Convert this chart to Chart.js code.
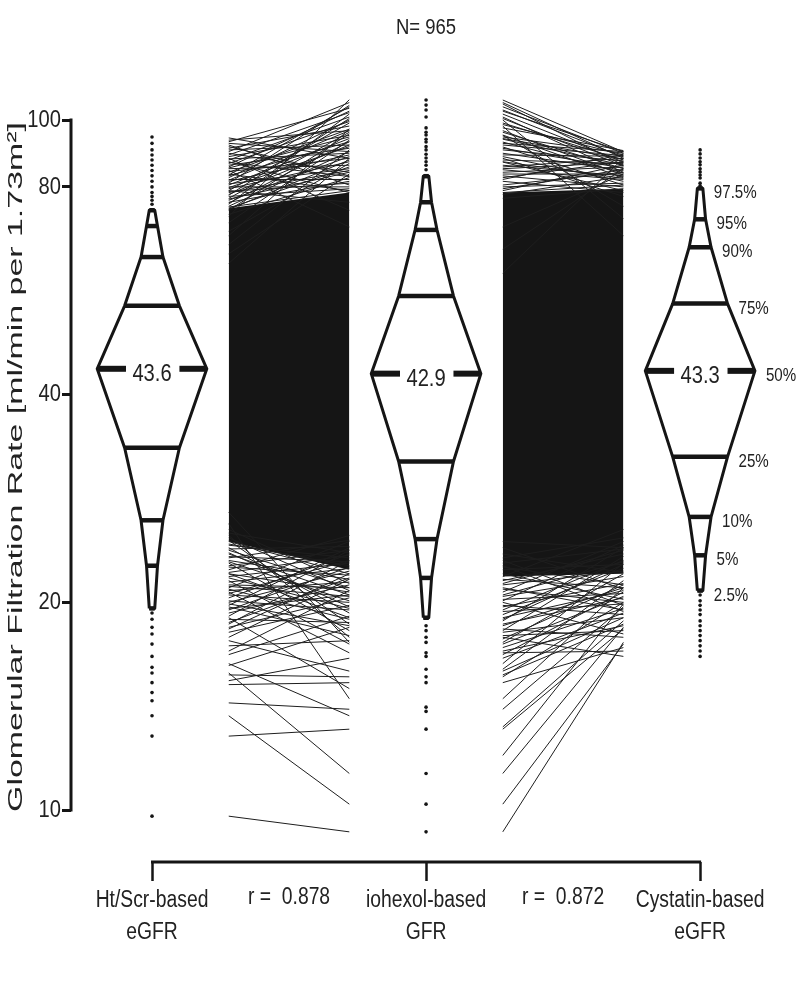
<!DOCTYPE html>
<html>
<head>
<meta charset="utf-8">
<script src="https://cdn.jsdelivr.net/npm/chart.js@4.4.1/dist/chart.umd.min.js"></script>
<style>
  html, body { margin: 0; padding: 0; background: #fff; }
</style>
</head>
<body>
<canvas id="chart0" width="800" height="981"></canvas>
<script>
const sans = "'Liberation Sans', Arial, sans-serif";

const titleText = "N= 965";
const yTitle = "Glomerular Filtration Rate [ml/min per 1.73m\u00b2]";
const categories = [["Ht/Scr-based", "eGFR"], ["iohexol-based", "GFR"], ["Cystatin-based", "eGFR"]];
const corrLabels = ["r =  0.878", "r =  0.872"];
const yTicks = [10, 20, 40, 80, 100];

// quantile levels and values per method
const quantLevels = [2.5, 5, 10, 25, 50, 75, 90, 95, 97.5];
const quantLabels = ["2.5%", "5%", "10%", "25%", "50%", "75%", "90%", "95%", "97.5%"];
const htScrQ = [19.6, 22.6, 26.3, 33.5, 43.6, 53.8, 63.3, 70.2, 74.0];
const iohexolQ = [19.0, 21.7, 24.7, 32.0, 42.9, 55.6, 69.3, 76.0, 82.9];
const cystatinQ = [20.8, 23.4, 26.6, 32.5, 43.3, 54.2, 65.4, 71.8, 79.6];

// single values outside 2.5-97.5%
const htScrOut = [94.5, 92.5, 90.5, 89, 87.5, 86, 84.5, 83, 81.5, 80, 78.5, 77.5, 76.5, 75.5,
  19.3, 18.9, 18.4, 18.0, 17.4, 16.7, 16.1, 15.8, 15.3, 14.8, 14.4, 13.7, 12.8, 9.8];
const iohexolOut = [106.9, 105.1, 103.4, 101, 97.4, 96, 95.1, 93.8, 92.9, 91.5, 90.5, 89.2, 88.1, 87, 86, 84.7,
  18.5, 18.2, 17.8, 17.5, 16.9, 16.7, 16.0, 15.6, 15.3, 14.1, 13.9, 13.1, 11.3, 10.2, 9.3];
const cystatinOut = [90.5, 89.3, 88.1, 87, 86.1, 85, 84.1, 83.2, 82.4, 81.0, 80.3,
  20.5, 20.1, 19.8, 19.5, 19.2, 18.8, 18.5, 18.2, 17.9, 17.6, 17.3, 17.0, 16.7];

// dense part of the paired lines (left value, right value)
const leftBandTop = [74.5, 78.5];
const leftBandBottom = [24.5, 22.3];
const rightBandTop = [78.5, 79.5];
const rightBandBottom = [21.8, 22.0];

// visible single pairs: Ht/Scr -> iohexol
const leftPairs = [
  [94.2, 88.0], [93.0, 104.0], [92.0, 80.5], [91.0, 98.0], [90.0, 106.0], [89.5, 84.0], [88.5, 95.0],
  [87.5, 101.0], [87.0, 78.5], [86.0, 91.0], [85.5, 103.0], [85.0, 86.0], [84.0, 97.0], [83.5, 79.0],
  [83.0, 93.0], [82.5, 100.0], [82.0, 82.0], [81.5, 89.0], [81.0, 105.0], [80.5, 94.0], [80.0, 80.0],
  [79.5, 87.0], [79.0, 99.0], [78.5, 84.5], [78.0, 92.0], [77.5, 79.5], [77.0, 96.0], [76.5, 88.5],
  [76.0, 81.5], [75.5, 102.0], [75.0, 90.0], [74.5, 85.5], [74.0, 95.5], [73.0, 82.5], [72.5, 107.0],
  [71.0, 93.5], [69.0, 86.5], [68.0, 97.0], [66.0, 90.5], [64.0, 83.5], [62.0, 88.0], [88.0, 74.0],
  [84.5, 70.0], [79.0, 76.0], [90.5, 92.0], [86.5, 99.5],
  [93.5, 96.5], [92.5, 90.0], [91.5, 83.0], [89.0, 102.5], [87.8, 89.5], [86.8, 82.8], [85.2, 94.5],
  [84.2, 88.0], [83.2, 104.5], [81.8, 96.5], [80.8, 85.0], [79.8, 91.5], [78.8, 81.0], [77.8, 100.5],
  [76.8, 84.0], [75.8, 93.0], [74.8, 79.0], [74.2, 87.5],
  [9.8, 9.3], [13.7, 10.2], [12.8, 13.1], [14.3, 14.0], [15.8, 11.3], [16.3, 13.7], [15.2, 15.3],
  [15.7, 15.6], [15.4, 16.6], [17.6, 15.9], [17.3, 17.6], [18.9, 18.7], [17.8, 21.6], [16.2, 18.4],
  [20.1, 19.5], [20.7, 16.9], [19.5, 22.5], [18.4, 20.3], [21.5, 17.4], [19.0, 15.0], [22.0, 19.0],
  [20.3, 23.5], [21.2, 21.0], [18.1, 19.8], [22.8, 18.2], [23.5, 20.5], [19.8, 24.0], [21.8, 22.8],
  [24.0, 19.3], [17.0, 20.8], [22.3, 25.0], [23.0, 21.6], [20.9, 18.9], [18.6, 23.0], [24.5, 22.0],
  [16.8, 19.1], [25.0, 17.8], [27.0, 17.5], [26.0, 14.5], [19.3, 21.2], [20.5, 20.0], [22.6, 23.8],
  [21.0, 24.5], [23.8, 21.0], [24.2, 23.2], [19.7, 17.9], [22.0, 20.7], [25.5, 21.3], [18.3, 22.0],
  [23.2, 24.6],
  [24.8, 20.8], [24.3, 22.6], [23.6, 19.7], [23.3, 22.9], [22.9, 20.1], [22.5, 21.9], [22.1, 23.4],
  [21.7, 19.6], [21.4, 22.4], [20.8, 21.4], [20.6, 23.0], [20.0, 22.2], [19.6, 20.5], [19.1, 23.8],
  [18.7, 21.7], [24.6, 18.6], [23.9, 24.1], [21.1, 20.4], [25.2, 23.6], [19.9, 18.5]
];

// visible single pairs: iohexol -> Cystatin
const rightPairs = [
  [106.9, 89.9], [104.5, 89.5], [103.4, 88.4], [102.0, 86.9], [101.0, 84.0], [99.0, 87.5], [97.4, 90.3],
  [96.0, 85.0], [95.1, 82.5], [94.5, 89.5], [93.8, 86.0], [92.9, 83.8], [92.0, 88.8], [91.4, 80.5],
  [90.5, 87.2], [89.5, 84.5], [88.5, 81.5], [87.5, 86.5], [86.9, 79.0], [86.0, 83.0], [85.5, 88.0],
  [84.7, 82.0], [84.0, 85.5], [83.0, 80.0], [82.5, 87.0], [81.5, 78.5], [80.5, 84.0], [80.0, 81.0],
  [79.0, 86.1], [78.0, 82.8], [77.0, 79.5], [100.0, 72.0], [98.0, 68.0], [95.0, 75.0], [60.0, 88.0],
  [65.0, 85.0], [105.5, 86.0], [92.5, 90.0], [88.0, 77.5], [70.0, 83.5],
  [106.0, 88.0], [103.0, 90.0], [100.5, 85.8], [98.5, 89.0], [96.5, 83.2], [94.0, 87.8], [91.0, 85.2],
  [89.0, 88.6], [87.0, 82.3], [85.0, 86.8], [83.5, 83.5], [82.0, 89.2], [79.5, 84.8], [78.5, 80.5],
  [9.3, 17.5], [10.2, 17.4], [11.3, 18.4], [13.1, 18.3], [13.2, 18.8], [14.0, 19.7], [15.3, 17.2],
  [15.7, 18.6], [16.6, 19.3], [17.4, 20.4], [16.0, 21.5], [15.6, 20.0], [16.9, 17.0], [17.5, 22.0],
  [18.1, 19.0], [18.5, 21.0], [17.8, 16.7], [19.0, 20.8], [19.5, 23.0], [20.0, 18.0], [20.4, 21.8],
  [19.2, 22.4], [21.0, 19.5], [21.5, 23.5], [20.7, 24.5], [22.0, 20.2], [18.8, 24.0], [22.5, 21.2],
  [21.8, 25.5], [23.0, 19.8], [16.3, 22.8], [24.0, 20.9], [14.5, 21.0], [18.3, 17.8], [20.2, 20.6],
  [21.2, 22.2], [22.8, 23.9], [23.5, 22.1], [19.8, 19.2], [24.5, 24.0], [17.0, 18.5], [12.0, 19.9],
  [21.6, 21.0], [21.3, 23.8], [20.9, 20.0], [20.5, 22.9], [20.1, 24.2], [19.7, 21.3], [19.4, 19.9],
  [18.9, 22.7], [18.6, 20.3], [18.2, 23.3], [17.7, 21.2], [17.2, 19.6], [22.3, 22.7], [22.6, 19.4],
  [23.2, 24.8], [16.8, 20.7], [17.9, 18.2], [15.9, 19.0]
];

// layout of the x axis (category units)
const HALF_W = 0.2;          // half width of a diamond at the median
const LEFT_X = [0.28, 0.72];
const RIGHT_X = [1.28, 1.72];
const INK = "#151515";
const TEXT = "#222";

function halfWidth(p){
  return Math.min(p, 100 - p) / 50 * HALF_W;
}

//diamond outline, quantile bars and outside dots for one method
function diamondSets(c, q, outs){
  var sets = [];
  var outline = [];
  for (var i = 0; i < q.length; i++) outline.push({x: c - halfWidth(quantLevels[i]), y: q[i]});
  for (var i = q.length - 1; i >= 0; i--) outline.push({x: c + halfWidth(quantLevels[i]), y: q[i]});
  outline.push(outline[0]);
  sets.push({data: outline, borderColor: INK, borderWidth: 3, borderJoinStyle: "round", order: 0});

  for (var i = 0; i < q.length; i++) {
    var hw = halfWidth(quantLevels[i]);
    if (quantLevels[i] == 50) { //median bar is split round the label
      sets.push({data: [{x: c - hw, y: q[i]}, {x: c - hw + 0.105, y: q[i]}], borderColor: INK, borderWidth: 6, order: 0});
      sets.push({data: [{x: c + hw - 0.1, y: q[i]}, {x: c + hw, y: q[i]}], borderColor: INK, borderWidth: 6, order: 0});
    } else {
      sets.push({data: [{x: c - hw, y: q[i]}, {x: c + hw, y: q[i]}], borderColor: INK, borderWidth: 4.5, order: 0});
    }
  }
  sets.push({
    type: "scatter",
    data: outs.map(v => ({x: c, y: v})),
    pointRadius: 1.8, pointBackgroundColor: INK, pointBorderWidth: 0, showLine: false, order: 0
  });
  return sets;
}

function bandSets(xs, top, bottom){
  return [
    {data: [{x: xs[0], y: top[0]}, {x: xs[1], y: top[1]}], borderWidth: 0, borderColor: INK, order: 2},
    {data: [{x: xs[0], y: bottom[0]}, {x: xs[1], y: bottom[1]}], borderWidth: 0, borderColor: INK,
     fill: "-1", backgroundColor: INK, order: 2}
  ];
}

function pairSets(xs, pairs){
  return pairs.map(p => ({
    data: [{x: xs[0], y: p[0]}, {x: xs[1], y: p[1]}],
    borderColor: "#1e1e1e", borderWidth: 1, order: 1
  }));
}

var datasets = [];
datasets = datasets.concat(bandSets(LEFT_X, leftBandTop, leftBandBottom));
datasets = datasets.concat(bandSets(RIGHT_X, rightBandTop, rightBandBottom));
datasets = datasets.concat(pairSets(LEFT_X, leftPairs));
datasets = datasets.concat(pairSets(RIGHT_X, rightPairs));
datasets = datasets.concat(diamondSets(0, htScrQ, htScrOut));
datasets = datasets.concat(diamondSets(1, iohexolQ, iohexolOut));
datasets = datasets.concat(diamondSets(2, cystatinQ, cystatinOut));

const xTickVals = [0, 1, 2];

//condensed text, like the narrow face of the original
function narrowText(ctx, text, x, y, size, align){
  ctx.save();
  ctx.font = size + "px " + sans;
  ctx.fillStyle = TEXT;
  ctx.textAlign = align;
  ctx.textBaseline = "middle";
  ctx.translate(x, y);
  ctx.scale(0.84, 1);
  ctx.fillText(text, 0, 0);
  ctx.restore();
}

//texts and axis lines drawn on top
const decorPlugin = {
  id: "decor",
  afterDraw(chart){
    var ctx = chart.ctx, xs = chart.scales.x, ys = chart.scales.y, area = chart.chartArea;
    ctx.save();
    ctx.strokeStyle = INK;
    ctx.lineWidth = 3;
    ctx.beginPath();
    ctx.moveTo(area.left, ys.getPixelForValue(100) - 1.5);
    ctx.lineTo(area.left, ys.getPixelForValue(10) + 1.5);
    ctx.stroke();
    ctx.beginPath();
    ctx.moveTo(xs.getPixelForValue(0) - 1, area.bottom);
    ctx.lineTo(xs.getPixelForValue(2) + 1, area.bottom);
    ctx.stroke();
    ctx.restore();

    narrowText(ctx, titleText, xs.getPixelForValue(1), 28, 22, "center");

    // y tick labels
    yTicks.forEach(function(v){
      narrowText(ctx, String(v), area.left - 10, ys.getPixelForValue(v), 24, "right");
    });

    // x labels and correlations
    categories.forEach(function(lines, i){
      narrowText(ctx, lines[0], xs.getPixelForValue(i), 901, 23, "center");
      narrowText(ctx, lines[1], xs.getPixelForValue(i), 933, 23, "center");
    });
    corrLabels.forEach(function(t, i){
      narrowText(ctx, t, xs.getPixelForValue(i + 0.5), 898, 23, "center");
    });

    // median values
    [htScrQ, iohexolQ, cystatinQ].forEach(function(q, i){
      narrowText(ctx, q[4].toFixed(1), xs.getPixelForValue(i), ys.getPixelForValue(q[4]) + 6, 24, "center");
    });

    // quantile names beside the last diamond
    for (var i = 0; i < quantLevels.length; i++) {
      var px = xs.getPixelForValue(2 + halfWidth(quantLevels[i])) + 11;
      narrowText(ctx, quantLabels[i], px, ys.getPixelForValue(cystatinQ[i]) + 5, 18, "left");
    }

    // rotated y title, stretched like the original
    ctx.save();
    ctx.fillStyle = TEXT;
    ctx.font = "21px " + sans;
    ctx.textAlign = "center";
    ctx.textBaseline = "middle";
    var w = ctx.measureText(yTitle).width;
    ctx.translate(16, 467);
    ctx.rotate(-Math.PI / 2);
    ctx.scale(690 / w, 1);
    ctx.fillText(yTitle, 0, 0);
    ctx.restore();
  }
};

var ctx = document.getElementById("chart0").getContext("2d");
var chart = new Chart(ctx, {
  type: "line",
  data: {datasets: datasets},
  plugins: [decorPlugin],
  options: {
    responsive: false,
    animation: false,
    layout: {padding: {top: 95, right: 10, left: 0, bottom: 0}},
    elements: {
      line: {tension: 0, fill: false, borderCapStyle: "butt"},
      point: {radius: 0, hoverRadius: 0}
    },
    plugins: {legend: {display: false}, title: {display: false}, tooltip: {enabled: false}},
    events: [],
    scales: {
      x: {
        type: "linear",
        min: -0.2956, max: 2.328,
        afterBuildTicks: function(scale){ scale.ticks = xTickVals.map(v => ({value: v})); },
        afterFit: function(scale){ scale.height = 119; },
        border: {display: false},
        grid: {drawOnChartArea: false, tickLength: 19, tickWidth: 2.5, tickColor: INK},
        ticks: {display: false}
      },
      y: {
        type: "logarithmic",
        min: 8.41, max: 108.7,
        afterBuildTicks: function(scale){ scale.ticks = yTicks.map(v => ({value: v})); },
        afterFit: function(scale){ scale.width = 71; },
        border: {display: false},
        grid: {drawOnChartArea: false, tickLength: 9, tickWidth: 3, tickColor: INK},
        ticks: {display: false}
      }
    }
  }
});
</script>
</body>
</html>
